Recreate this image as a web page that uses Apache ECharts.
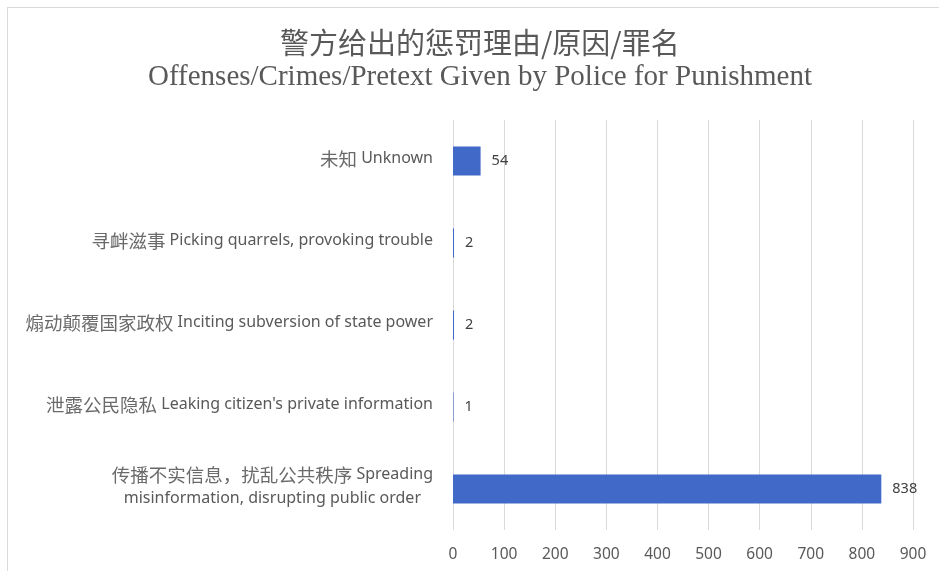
<!DOCTYPE html>
<html><head><meta charset="utf-8">
<script src="https://cdn.jsdelivr.net/npm/echarts@6/dist/echarts.min.js"></script>
<style>
html,body{margin:0;padding:0;background:#fff;}
#frame{position:absolute;left:7px;top:7px;width:940px;height:570px;border-left:1px solid #d9d9d9;border-top:1px solid #d9d9d9;box-sizing:border-box;}
#chart{position:absolute;left:0;top:0;width:939px;height:571px;}
</style></head>
<body>
<div id="frame"></div>
<div id="chart"></div>
<script>
const titleZh = '警方给出的惩罚理由/原因/罪名';
const titleEn = 'Offenses/Crimes/Pretext Given by Police for Punishment';
const categories = [
  '传播不实信息，扰乱公共秩序 Spreading\nmisinformation, disrupting public order',
  "泄露公民隐私 Leaking citizen's private information",
  '煽动颠覆国家政权 Inciting subversion of state power',
  '寻衅滋事 Picking quarrels, provoking trouble',
  '未知 Unknown'
];
const values = [838, 1, 2, 2, 54];
const xTicks = {min: 0, max: 900, interval: 100};

const latinFont = '"Noto Sans", sans-serif';
const cjkFont = '"Noto Sans CJK SC", sans-serif';
const zhTitleFont = '"Noto Sans CJK SC", serif';
const enTitleFont = '"Liberation Serif", "Times New Roman", serif';

function measure(text, font) {
  const c = document.createElement('canvas').getContext('2d');
  c.font = font;
  return c.measureText(text).width;
}
const titleCenter = 480;
const zhW = measure(titleZh, '29px ' + zhTitleFont);
const enW = measure(titleEn, '29px ' + enTitleFont);

function esc(s) { return s.replace(/[{}|]/g, ''); }
const chart = echarts.init(document.getElementById('chart'), null, {renderer: 'canvas'});
chart.setOption({
  backgroundColor: 'transparent',
  animation: false,
  title: [
    {text: titleZh, left: Math.round(titleCenter - zhW / 2), top: 28, padding: 0, textStyle: {fontFamily: zhTitleFont, fontSize: 29, fontWeight: 'normal', color: '#595959'}},
    {text: titleEn, left: Math.round(titleCenter - enW / 2), top: 63, padding: 0, textStyle: {fontFamily: enTitleFont, fontSize: 29, fontWeight: 'normal', color: '#595959'}}
  ],
  grid: {left: 453, right: 26, top: 120, bottom: 41, containLabel: false},
  xAxis: {
    type: 'value', min: xTicks.min, max: xTicks.max, interval: xTicks.interval,
    axisLine: {show: false}, axisTick: {show: false},
    splitLine: {show: true, lineStyle: {color: '#d9d9d9', width: 1}},
    axisLabel: {color: '#595959', fontSize: 15.5, fontFamily: latinFont, margin: 17}
  },
  yAxis: {
    type: 'category', data: categories,
    axisLine: {show: false}, axisTick: {show: false},
    axisLabel: {
      color: '#595959', fontSize: 16, fontFamily: latinFont, margin: 20, lineHeight: 24,
      padding: [0, 0, 5, 0],
      formatter: function (v) {
        return v.split('\n').map(function (line) {
          const m = line.match(/^([^A-Za-z]*?)\s+([A-Za-z].*)$/);
          if (m) return '{z|' + esc(m[1]) + '} {e|' + esc(m[2]) + '}';
          return '{e|' + esc(line) + '}';
        }).join('\n');
      },
      rich: {
        z: {align: 'center', color: '#6a6a6a', fontSize: 18.5, fontFamily: cjkFont, lineHeight: 24},
        e: {align: 'center', color: '#595959', fontSize: 16, fontFamily: latinFont, lineHeight: 24}
      }
    }
  },
  series: [{
    type: 'bar', data: values, barWidth: 29,
    itemStyle: {color: '#4169c8'},
    label: {show: true, position: 'right', distance: 11, color: '#404040', fontSize: 14.5, fontFamily: latinFont}
  }]
});
</script>
</body></html>
